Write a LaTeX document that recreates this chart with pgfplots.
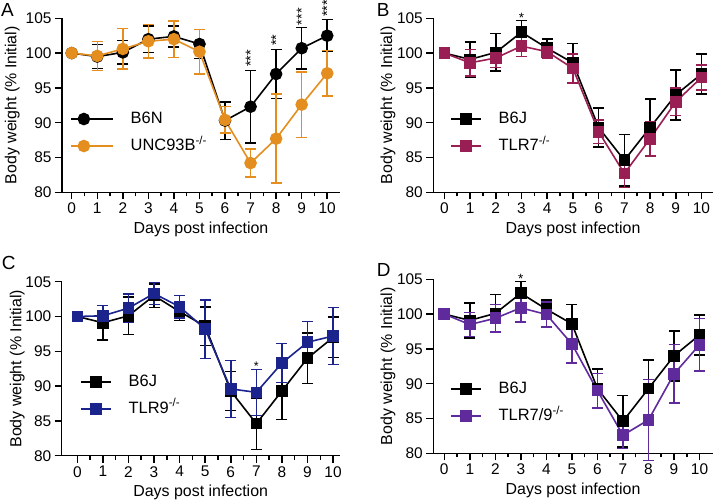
\documentclass[border=0pt]{standalone}
\usepackage{fontspec}
\setmainfont{Liberation Sans}
\usepackage{pgfplots}
\pgfplotsset{compat=1.18}
\usepackage{pgfplotstable}

\definecolor{gporange}{RGB}{228,142,32}
\definecolor{gpmaroon}{RGB}{152,30,84}
\definecolor{gpnavy}{RGB}{26,36,140}
\definecolor{gppurple}{RGB}{94,42,156}

% day, mean, error
\pgfplotstableread{
d m e
0 100 0
1 99.5 1.7
2 100.1 1.7
3 102.0 1.9
4 102.4 1.5
5 101.3 2.1
6 90.3 2.7
7 92.3 5.2
8 97.0 3.5
9 100.7 3.0
10 102.5 2.3
}\bsixn
\pgfplotstableread{
d m e
0 100 0
1 99.6 2.1
2 100.6 2.9
3 101.7 2.4
4 102.0 2.6
5 100.2 3.2
6 90.4 1.9
7 84.2 2.0
8 87.7 6.4
9 92.6 4.7
10 97.1 3.3
}\unc
\pgfplotstableread{
d m e
0 100 0
1 99.1 2.5
2 100.1 2.7
3 103.0 1.7
4 100.7 1.3
5 98.6 2.8
6 89.3 2.8
7 84.6 3.7
8 89.3 4.1
9 94.0 3.6
10 97.0 2.9
}\bsixj
\pgfplotstableread{
d m e
0 100 0
1 98.6 1.9
2 99.3 1.4
3 101.0 1.5
4 100.2 1.0
5 97.8 2.1
6 88.7 1.7
7 82.7 2.0
8 87.7 2.5
9 93.0 2.0
10 96.5 1.8
}\tlrseven
\pgfplotstableread{
d m e
0 100 0
1 100.1 1.5
2 101.2 2.0
3 103.3 1.6
4 101.4 1.6
5 98.2 4.2
6 89.6 4.1
7 89.1 3.3
8 93.3 2.8
9 96.3 3.0
10 97.2 4.1
}\tlrnine
\pgfplotstableread{
d m e
0 100 0
1 98.5 1.7
2 99.4 2.0
3 100.9 2.0
4 99.95 1.8
5 95.7 2.7
6 89.0 2.5
7 82.6 1.9
8 84.8 5.8
9 91.4 4.2
10 95.6 3.8
}\tlrsevennine

\tikzset{sigstar/.style={rotate=90, anchor=west, inner sep=0pt, font=\fontsize{14.5}{14}\selectfont}}

\pgfplotsset{
  wt/.style={
    scale only axis, width=278bp, height=174bp,
    ymin=80, ymax=105, ytick={80,85,...,105},
    xtick={0,...,10}, minor x tick num=1,
    axis x line*=bottom, axis y line*=left,
    axis line style={line width=1.5bp, -},
    every tick/.style={black, line width=1.5bp},
    tick align=outside, major tick length=7bp, minor tick length=4bp,
    tick label style={font=\fontsize{15.5}{17}\selectfont},
    label style={font=\fontsize{16}{18}\selectfont},
    /pgf/number format/assume math mode=true,
    xlabel={Days post infection},
    ylabel={Body weight (\% Initial)},
    xlabel style={at={(axis description cs:0.5,-0.213)}, anchor=center},
    clip=false,
    legend cell align=left,
    legend style={draw=none, fill=none, font=\fontsize{16.5}{18}\selectfont,
      column sep=17bp, row sep=12bp, anchor=west, inner sep=0pt, outer sep=0pt,
      nodes={inner sep=0pt, text height=12bp, text depth=3bp}},
    legend image code/.code={\draw[##1,mark repeat=2,mark phase=2]
      plot coordinates {(0bp,0bp) (15bp,0bp) (30bp,0bp)};},
  },
  ser/.style={line width=1.6bp, mark size=5bp, mark options={solid},
    error bars/y dir=both, error bars/y explicit,
    error bars/error bar style={line width=1.5bp},
    error bars/error mark options={rotate=90, mark size=5.5bp, line width=1.5bp}},
}

\begin{document}
\begin{tikzpicture}
\path[use as bounding box] (0,0) rectangle (714bp,500bp);

% panel letters
\node[anchor=base west, inner sep=0pt, font=\fontsize{19}{20}\selectfont] at (1bp,483.3bp) {A};
\node[anchor=base west, inner sep=0pt, font=\fontsize{19}{20}\selectfont] at (376.7bp,483.3bp) {B};
\node[anchor=base west, inner sep=0pt, font=\fontsize{19}{20}\selectfont] at (1.7bp,230bp) {C};
\node[anchor=base west, inner sep=0pt, font=\fontsize{19}{20}\selectfont] at (376.7bp,223.3bp) {D};

% A
\begin{axis}[wt, at={(62bp,307.7bp)}, anchor=south west,
  xmin=-0.38, xmax=10.5,
  ylabel style={at={(axis description cs:-0.179,0.5)}, anchor=center},
  legend style={at={(axis description cs:0.029,0.3435)}},
  legend image code/.code={\draw[#1,mark repeat=2,mark phase=2]
      plot coordinates {(0bp,0bp) (13bp,0bp) (42bp,0bp)};}]
\addplot[ser, black, mark=*, mark size=5.5bp] table[x=d, y=m, y error=e] {\bsixn};
\addlegendentry{B6N}
\addplot[ser, gporange, mark=*, mark size=5.5bp] table[x=d, y=m, y error=e] {\unc};
\addlegendentry{UNC93B\textsuperscript{-/-}}
\node[sigstar] at (axis cs:7,98.0) {***};
\node[sigstar] at (axis cs:8,101.0) {**};
\node[sigstar] at (axis cs:9,104.0) {***};
\node[sigstar] at (axis cs:10,105.2) {***};
\end{axis}

% B
\begin{axis}[wt, at={(433.3bp,307.7bp)}, anchor=south west, width=279.5bp,
  xmin=-0.43, xmax=10.44,
  ylabel style={at={(axis description cs:-0.162,0.5)}, anchor=center},
  legend style={at={(axis description cs:0.06,0.3435)}}]
\addplot[ser, black, mark=square*] table[x=d, y=m, y error=e] {\bsixj};
\addlegendentry{B6J}
\addplot[ser, gpmaroon, mark=square*] table[x=d, y=m, y error=e] {\tlrseven};
\addlegendentry{TLR7\textsuperscript{-/-}}
\node[anchor=base, inner sep=0pt, font=\fontsize{13.5}{13}\selectfont] at (axis cs:3,104.4) {*};
\end{axis}

% C
\begin{axis}[wt, at={(61.7bp,44.3bp)}, anchor=south west,
  xmin=-0.61, xmax=10.26,
  ylabel style={at={(axis description cs:-0.16,0.5)}, anchor=center},
  legend style={at={(axis description cs:0.066,0.3475)}}]
\addplot[ser, black, mark=square*] table[x=d, y=m, y error=e] {\bsixj};
\addlegendentry{B6J}
\addplot[ser, gpnavy, mark=square*] table[x=d, y=m, y error=e] {\tlrnine};
\addlegendentry{TLR9\textsuperscript{-/-}}
\node[anchor=base, inner sep=0pt, font=\fontsize{12.5}{12}\selectfont] at (axis cs:7,92.2) {*};
\end{axis}

% D
\begin{axis}[wt, at={(433.3bp,46.7bp)}, anchor=south west, width=279.5bp,
  xmin=-0.43, xmax=10.52,
  ylabel style={at={(axis description cs:-0.162,0.5)}, anchor=center},
  legend style={at={(axis description cs:0.06,0.292)}}]
\addplot[ser, black, mark=square*] table[x=d, y=m, y error=e] {\bsixj};
\addlegendentry{B6J}
\addplot[ser, gppurple, mark=square*] table[x=d, y=m, y error=e] {\tlrsevennine};
\addlegendentry{TLR7/9\textsuperscript{-/-}}
\node[anchor=base, inner sep=0pt, font=\fontsize{13.5}{13}\selectfont] at (axis cs:3,104.4) {*};
\end{axis}
\end{tikzpicture}
\end{document}
